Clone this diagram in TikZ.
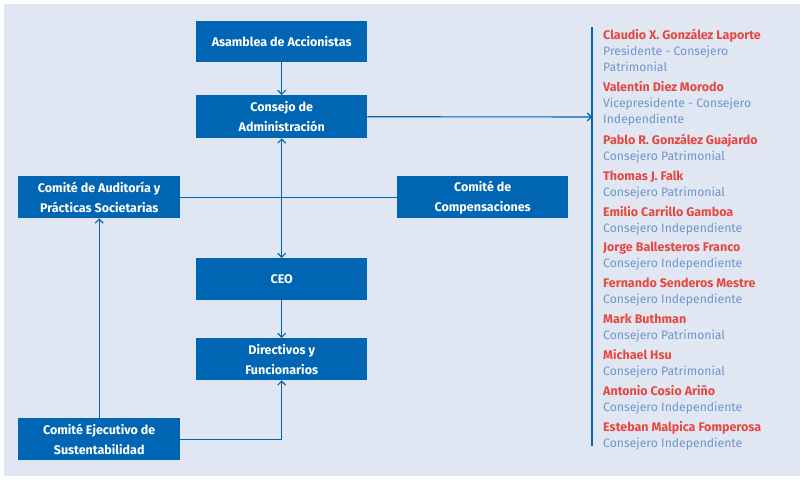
\documentclass[tikz,border=0pt]{standalone}
\usepackage{fontspec}
\setmainfont{Fira Sans}
\usetikzlibrary{arrows.meta}
\definecolor{bg}{HTML}{E1E6F3}
\definecolor{bx}{HTML}{0066B3}
\definecolor{nm}{HTML}{E8473F}
\definecolor{rl}{HTML}{6F95CF}
\begin{document}
\begin{tikzpicture}[x=1pt,y=-1pt,
  box/.style={fill=bx,text=white,font=\fontsize{12.5}{20}\selectfont\bfseries,align=center,inner sep=0,anchor=north west},
  ln/.style={draw=bx,line width=1.1pt},
  ar/.style={ln,-{Straight Barb[length=4pt,width=8pt]}},
  nmS/.style={anchor=base west,text=nm,font=\fontsize{12.5}{12}\selectfont\bfseries,inner sep=0},
  rlS/.style={anchor=base west,text=rl,font=\fontsize{12.2}{12}\selectfont,inner sep=0}]
\useasboundingbox (0,0) rectangle (806,482);
\fill[white] (0,0) rectangle (806,482);
\fill[bg] (4,4) rectangle (800,476);
\node[box,minimum width=171pt,minimum height=41pt] (asa) at (196,21) {Asamblea de Accionistas};
\node[box,minimum width=171pt,minimum height=43pt] (con) at (196,95) {Consejo de\\Administración};
\node[box,minimum width=162pt,minimum height=42pt] (aud) at (18,176) {Comité de Auditoría y\\Prácticas Societarias};
\node[box,minimum width=171pt,minimum height=42pt] (com) at (397,176) {Comité de\\Compensaciones};
\node[box,minimum width=171pt,minimum height=42pt] (ceo) at (196,258) {CEO};
\node[box,minimum width=171pt,minimum height=42pt] (dir) at (196,338) {Directivos y\\Funcionarios};
\node[box,minimum width=162pt,minimum height=42pt] (eje) at (18,418) {Comité Ejecutivo de\\Sustentabilidad};
\coordinate (vt) at (592,27);
\coordinate (vb) at (592,446);
\coordinate (vm) at (592,117);
\draw[ln] (vt) -- (vb);
\draw[ar] (asa) -- (con);
\draw[ar] (con.east) -- (vm);
\draw[ln] (aud.east) -- (com.west);
\draw[ar,{Straight Barb[length=4pt,width=8pt]}-{Straight Barb[length=4pt,width=8pt]}] (con) -- (ceo);
\draw[ar] (ceo) -- (dir);
\draw[ar] (eje) -- (aud);
\draw[ar] (eje.east) -| (dir.south);
\foreach \y/\n/\a/\b in {39/Claudio X. González Laporte/Presidente - Consejero/Patrimonial,
  91/Valentín Diez Morodo/Vicepresidente - Consejero/Independiente}{
  \node[nmS] at (603,\y) {\n};
  \node[rlS] at (603,\y+16) {\a};
  \node[rlS] at (603,\y+32) {\b};}
\foreach \y/\n/\a in {144/Pablo R. González Guajardo/Consejero Patrimonial,
  180/Thomas J. Falk/Consejero Patrimonial,
  216/Emilio Carrillo Gamboa/Consejero Independiente,
  251/Jorge Ballesteros Franco/Consejero Independiente,
  287/Fernando Senderos Mestre/Consejero Independiente,
  323/Mark Buthman/Consejero Patrimonial,
  359/Michael Hsu/Consejero Patrimonial,
  395/Antonio Cosio Ariño/Consejero Independiente,
  431/Esteban Malpica Fomperosa/Consejero Independiente}{
  \node[nmS] at (603,\y) {\n};
  \node[rlS] at (603,\y+16) {\a};}
\end{tikzpicture}
\end{document}
